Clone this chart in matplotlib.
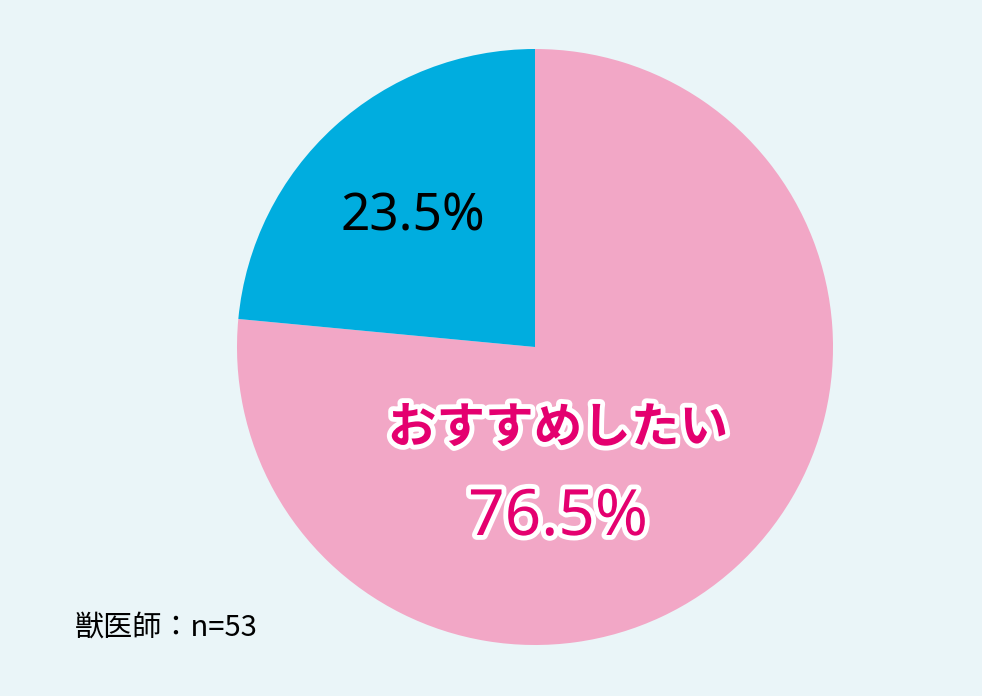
import matplotlib.pyplot as plt
import matplotlib.patheffects as pe

plt.rcParams['font.family'] = ['Noto Sans CJK JP', 'DejaVu Sans']

labels = ["おすすめしたい", "その他"]
values = [76.5, 23.5]
colors = ["#F2A7C6", "#00ADDF"]
note = "獣医師：n=53"

fig = plt.figure(figsize=(9.82, 6.96), dpi=100, facecolor="#EAF5F8")
ax = fig.add_axes([0, 0, 1, 1])
ax.set_facecolor("#EAF5F8")
ax.set_xlim(0, 982)
ax.set_ylim(0, 696)
ax.set_aspect("equal")
ax.axis("off")

ax.pie(values, colors=colors, startangle=90, counterclock=False,
       center=(535, 349), radius=298, frame=True,
       wedgeprops=dict(linewidth=0))
ax.set_xlim(0, 982)
ax.set_ylim(0, 696)
ax.axis("off")

stroke = [pe.withStroke(linewidth=7, foreground="white")]
ax.text(558, 268, labels[0], ha="center", va="center", fontsize=35,
        fontweight="bold", color="#E4006F", path_effects=stroke)
ax.text(558, 178, f"{values[0]}%", ha="center", va="center", fontsize=46,
        fontweight="bold", color="#E4006F", path_effects=stroke,
        family="Noto Sans")
ax.text(413, 479, f"{values[1]}%", ha="center", va="center", fontsize=37,
        color="black", family="Noto Sans")
ax.text(75, 68, note, ha="left", va="center", fontsize=21, color="black")

fig.savefig("out.png", dpi=100, facecolor=fig.get_facecolor())
